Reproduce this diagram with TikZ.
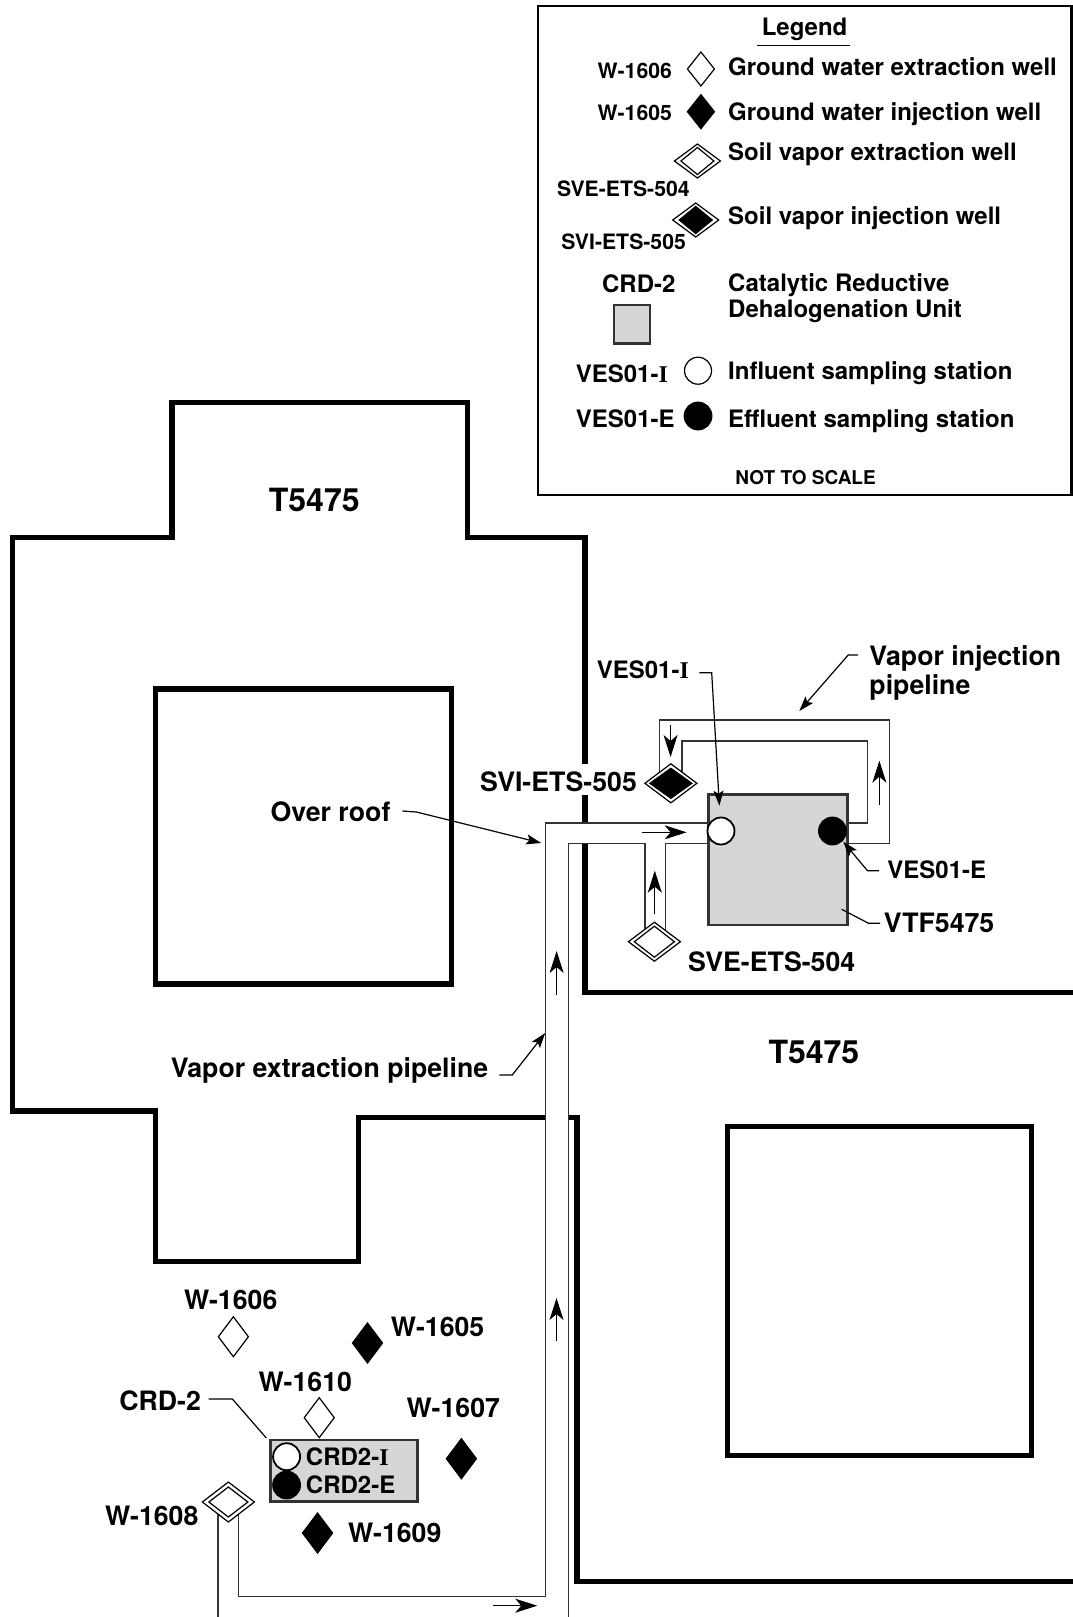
\documentclass[tikz,border=0pt]{standalone}
\usepackage{fontspec}
\setmainfont{TeX Gyre Heros}
\newfontfamily\serifbold{Liberation Serif}
\usetikzlibrary{shapes.geometric,arrows.meta}
\definecolor{unitgray}{HTML}{D6D6D6}
\definecolor{linegray}{HTML}{333333}
\newcommand{\serifI}{{\serifbold\bfseries I}}
\tikzset{
  thickwall/.style={line width=5.4pt,miter limit=10,black},
  pipe/.style={line width=1.4pt,linegray,line join=miter},
  lab/.style={font=\fontsize{26.7}{30}\selectfont\bfseries,inner sep=0pt,anchor=base west},
  labr/.style={lab,anchor=base east},
  labc/.style={lab,anchor=base},
  midlab/.style={font=\fontsize{24}{28}\selectfont\bfseries,inner sep=0pt,anchor=base west},
  smalllab/.style={font=\fontsize{21.2}{25}\selectfont\bfseries,inner sep=0pt,anchor=base east},
  wd/.style={shape=diamond,draw=black,line width=1.2pt,fill=white,inner sep=0pt,outer sep=0pt,minimum width=27pt,minimum height=34pt},
  bd/.style={wd,fill=black},
  mapwd/.style={wd,minimum width=30pt,minimum height=40pt},
  mapbd/.style={mapwd,fill=black},
  dblout/.style={wd,minimum width=52pt,minimum height=39pt},
  dblinw/.style={wd,minimum width=40pt,minimum height=31pt},
  dblinb/.style={dblinw,fill=black,minimum width=42pt,minimum height=30pt},
  wcirc/.style={circle,draw=black,fill=white,line width=1.8pt,inner sep=0pt,minimum size=27pt},
  bcirc/.style={wcirc,fill=black},
  unitbox/.style={draw=linegray,fill=unitgray,line width=2.6pt,inner sep=0pt},
  flow/.style={line width=1.2pt,black,-{Stealth[length=22pt,width=14pt,inset=6pt]}},
  leader/.style={line width=1.2pt,black,-{Stealth[length=15pt,width=10pt,inset=3pt]}},
  plainleader/.style={line width=1.2pt,black}
}
\begin{document}
\begin{tikzpicture}[x=0.9986pt,y=-1pt]
\useasboundingbox (0,0) rectangle (1074,1617);
% building outlines
\draw[thickwall] (1080,992.5) -- (586,992.5) -- (586,537.5) -- (468.4,537.5) -- (468.4,402.4) -- (172.3,402.4) -- (172.3,537.5) -- (12.4,537.5) -- (12.4,1111) -- (155.8,1111) -- (155.8,1261.7) -- (359,1261.7) -- (359,1117.3) -- (577.7,1117.3) -- (577.7,1581.6) -- (1080,1581.6);
\draw[thickwall] (155.8,689) rectangle (452,984);
\draw[thickwall] (728.4,1126.6) rectangle (1032.7,1455.7);
% pipe interiors hide the walls
\fill[white] (546,823) rectangle (569.4,1617);
\fill[white] (546,823) rectangle (708.8,843.7);
% extraction pipeline
\draw[pipe] (218.3,1505) -- (218.3,1617);
\draw[pipe] (238.7,1505) -- (238.7,1596.7) -- (546,1596.7) -- (546,823) -- (710,823);
\draw[pipe] (569.4,1617) -- (569.4,843.7) -- (646,843.7) -- (646,935);
\draw[pipe] (666.5,935) -- (666.5,843.7) -- (710,843.7);
% injection pipeline
\draw[pipe] (660.3,780) -- (660.3,720) -- (891,720) -- (891,843.7) -- (848,843.7);
\draw[pipe] (683,780) -- (683,741) -- (868.7,741) -- (868.7,823) -- (848,823);
% flow arrows
\coordinate (f1a) at (494,1605.7); \coordinate (f1b) at (538,1605.7);
\coordinate (f2a) at (557.3,1341); \coordinate (f2b) at (557.3,1298);
\coordinate (f3a) at (557.4,995); \coordinate (f3b) at (557.4,951);
\coordinate (f4a) at (643.3,832.3); \coordinate (f4b) at (687.6,832.3);
\coordinate (f5a) at (655.7,914.3); \coordinate (f5b) at (655.7,870.7);
\coordinate (f6a) at (671.5,725); \coordinate (f6b) at (671.5,757);
\coordinate (f7a) at (880.6,805); \coordinate (f7b) at (880.6,760.7);
\foreach \a/\b in {f1a/f1b,f2a/f2b,f3a/f3b,f4a/f4b,f5a/f5b,f6a/f6b,f7a/f7b} \draw[flow] (\a) -- (\b);
% unit at VTF5475
\node[unitbox,minimum width=139pt,minimum height=130.7pt] (vtf) at (778.8,859.6) {};
\node[wcirc] (vesi) at (722,831) {};
\node[bcirc] (vese) at (833.6,831) {};
% vapor wells
\node[dblout] (svi) at (671.8,783.3) {};
\node[dblinb] (svii) at (671.8,783.3) {};
\node[dblout] (sve) at (655.3,941.7) {};
\node[dblinw] (svei) at (655.3,941.7) {};
% map labels
\node[lab,font=\fontsize{32}{36}\selectfont\bfseries,anchor=base] (t1) at (314.7,511.7) {T5475};
\node[lab,font=\fontsize{32}{36}\selectfont\bfseries,anchor=base] (t2) at (815,1063.7) {T5475};
\node[lab] (vip1) at (870.5,665.3) {Vapor injection};
\node[lab] (vip2) at (870.5,694.7) {pipeline};
\node[midlab] (lvesi) at (597.5,678.2) {VES01-\serifI};
\node[lab,fill=white,text height=27pt,text depth=4pt] (lsvi) at (480.7,791) {SVI-ETS-505};
\node[midlab] (lvese) at (888.5,878) {VES01-E};
\node[lab] (lvtf) at (885,932.7) {VTF5475};
\node[lab] (lsve) at (689,971.7) {SVE-ETS-504};
\node[lab] (lroof) at (270.8,821) {Over roof};
\node[lab] (lvep) at (170.8,1077) {Vapor extraction pipeline};
% leaders
\draw[leader] (859,655) -- (849.4,655) -- (800.5,711);
\draw[leader] (700.4,672.7) -- (712.7,672.7) -- (720.4,805.7);
\draw[leader] (880.2,870.7) -- (868.7,870.7) -- (844.4,841.7);
\draw[plainleader] (881.4,923.3) -- (869.8,923.3) -- (842.9,909.3);
\draw[leader] (403,811) -- (417,812) -- (542,843);
\draw[leader] (500,1075) -- (513,1075) -- (546,1033);
% lower wells
\node[mapwd] (w1606) at (233.7,1336.7) {};
\node[mapbd] (w1605) at (368,1343) {};
\node[mapwd] (w1610) at (319.7,1417.7) {};
\node[mapbd] (w1607) at (462,1458.7) {};
\node[mapbd] (w1609) at (318,1533) {};
\node[dblout,minimum width=52pt,minimum height=40pt] (w1608) at (228.7,1502) {};
\node[dblinw,minimum width=39pt,minimum height=30pt] (w1608i) at (228.7,1502) {};
\node[unitbox,minimum width=147.4pt,minimum height=61.7pt] (crd) at (344.5,1470.9) {};
\node[wcirc] (crdi) at (287,1456.7) {};
\node[bcirc] (crde) at (287,1485) {};
\node[midlab] (lcrdi) at (306.2,1465.7) {CRD2-\serifI};
\node[midlab] (lcrde) at (306.2,1493.2) {CRD2-E};
\node[labc] (l1606) at (231,1309.3) {W-1606};
\node[lab] (l1605) at (391.3,1336) {W-1605};
\node[lab] (l1610) at (258.8,1391) {W-1610};
\node[lab] (lcrd) at (119.3,1410.7) {CRD-2};
\node[lab] (l1607) at (407,1417.7) {W-1607};
\node[lab] (l1608) at (105,1525) {W-1608};
\node[lab] (l1609) at (348.3,1542.7) {W-1609};
\draw[plainleader] (209,1399) -- (232.7,1399) -- (266.7,1438);
% legend
\draw[line width=2.6pt,black] (538.7,6) rectangle (1073,495);
\node[midlab,anchor=base] (legt) at (805.7,35) {Legend};
\coordinate (ula) at (758,45.5); \coordinate (ulb) at (851,45.5);
\draw[line width=1.2pt] (ula) -- (ulb);
\node[wd] (k1) at (701.9,69) {};
\node[bd] (k2) at (701.9,111.7) {};
\node[dblout,minimum width=46pt,minimum height=34pt] (k3) at (698.4,161) {};
\node[dblinw,minimum width=33pt,minimum height=27pt] (k3i) at (698.4,161) {};
\node[dblout,minimum width=46pt,minimum height=34pt] (k4) at (696.7,220) {};
\node[dblinb,minimum width=33pt,minimum height=27pt] (k4i) at (696.7,220) {};
\node[unitbox,minimum width=36pt,minimum height=38.3pt] (k5) at (633,324.2) {};
\node[wcirc,line width=1.2pt] (k6) at (699,370.7) {};
\node[bcirc] (k7) at (699,416) {};
\node[smalllab] (a1) at (673,78.7) {W-1606};
\node[smalllab] (a2) at (673,120.3) {W-1605};
\node[smalllab] (a3) at (690.8,196) {SVE-ETS-504};
\node[smalllab] (a4) at (687,249.3) {SVI-ETS-505};
\node[midlab,anchor=base] (a5) at (639.7,292.7) {CRD-2};
\node[midlab,anchor=base east] (a6) at (669,382.7) {VES01-\serifI};
\node[midlab,anchor=base east] (a7) at (675.8,427.7) {VES01-E};
\node[midlab] (b1) at (729,75) {Ground water extraction well};
\node[midlab] (b2) at (729,120.3) {Ground water injection well};
\node[midlab] (b3) at (729,160) {Soil vapor extraction well};
\node[midlab] (b4) at (729,224.3) {Soil vapor injection well};
\node[midlab] (b5) at (729,291) {Catalytic Reductive};
\node[midlab] (b6) at (729,317.7) {Dehalogenation Unit};
\node[midlab] (b7) at (729,379.3) {Influent sampling station};
\node[midlab] (b8) at (729,427.7) {Effluent sampling station};
\node[midlab,font=\fontsize{19}{23}\selectfont\bfseries,anchor=base] (nts) at (806.7,484) {NOT TO SCALE};
\end{tikzpicture}
\end{document}
